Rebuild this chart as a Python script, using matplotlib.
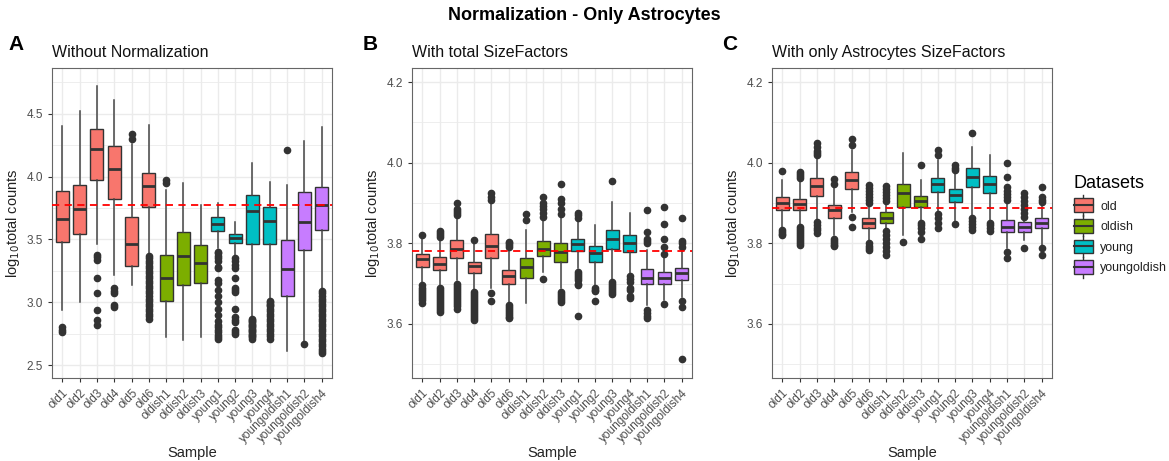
import numpy as np
import matplotlib
matplotlib.use("Agg")
import matplotlib.pyplot as plt
from matplotlib.patches import Rectangle
from matplotlib.legend_handler import HandlerBase

plt.rcParams["font.family"] = ["Liberation Sans", "DejaVu Sans"]

SAMPLES = ["old1", "old2", "old3", "old4", "old5", "old6",
           "oldish1", "oldish2", "oldish3",
           "young1", "young2", "young3", "young4",
           "youngoldish1", "youngoldish2", "youngoldish4"]
GROUP = ["old"] * 6 + ["oldish"] * 3 + ["young"] * 4 + ["youngoldish"] * 3
DATASETS = ["old", "oldish", "young", "youngoldish"]
COLORS = {"old": "#F8766D", "oldish": "#7CAE00", "young": "#00BFC4", "youngoldish": "#C77CFF"}

# ---- A: without normalization ----
A_whislo = [2.94, 3.00, 3.46, 3.215, 3.135, 3.39, 2.72, 2.70, 2.72, 3.43, 3.375, 2.88, 3.03, 2.61, 2.69, 3.10]
A_q1 = [3.48, 3.54, 3.97, 3.82, 3.287, 3.757, 3.01, 3.136, 3.154, 3.568, 3.468, 3.463, 3.463, 3.048, 3.415, 3.575]
A_med = [3.66, 3.74, 4.22, 4.06, 3.46, 3.925, 3.19, 3.37, 3.316, 3.624, 3.508, 3.73, 3.645, 3.263, 3.643, 3.773]
A_q3 = [3.886, 3.935, 4.38, 4.246, 3.676, 4.03, 3.375, 3.562, 3.455, 3.676, 3.54, 3.854, 3.757, 3.495, 3.88, 3.92]
A_whishi = [4.40, 4.52, 4.72, 4.61, 4.26, 4.41, 3.89, 3.946, 3.778, 3.79, 3.638, 4.108, 3.954, 3.935, 4.286, 4.395]
A_out = [
    [2.80, 2.78, 2.765],
    [],
    [3.38, 3.36, 3.34, 3.19, 3.07, 2.94, 2.86, 2.82],
    [3.11, 3.09, 3.07, 2.98, 2.96],
    [4.34, 4.30],
    [3.37, 3.35, 3.33, 3.31, 3.29, 3.27, 3.25, 3.23, 3.21, 3.19, 3.17, 3.15, 3.13,
     3.11, 3.09, 3.07, 3.05, 3.03, 3.01, 2.99, 2.97, 2.95, 2.93, 2.91, 2.89, 2.87],
    [3.97, 3.95],
    [],
    [],
    [3.40, 3.39, 3.37, 3.35, 3.33, 3.28, 3.27, 3.18, 3.15, 3.10, 3.05, 3.00, 2.95,
     2.90, 2.85, 2.82, 2.80, 2.78, 2.76, 2.74, 2.72, 2.71],
    [3.35, 3.33, 3.30, 3.27, 3.19, 3.11, 3.10, 3.08, 2.95, 2.88, 2.86, 2.84, 2.78, 2.76, 2.75],
    [2.87, 2.86, 2.85, 2.84, 2.83, 2.82, 2.81, 2.80, 2.79, 2.78, 2.77, 2.76, 2.75,
     2.74, 2.73, 2.72, 2.71],
    [3.01, 3.00, 2.99, 2.98, 2.97, 2.95, 2.93, 2.91, 2.89, 2.87, 2.85, 2.83, 2.81,
     2.79, 2.77, 2.75, 2.73, 2.71],
    [4.21],
    [2.665],
    [3.09, 3.07, 3.05, 3.03, 3.01, 2.99, 2.97, 2.95, 2.93, 2.91, 2.89, 2.87, 2.85,
     2.83, 2.81, 2.79, 2.77, 2.75, 2.73, 2.71, 2.69, 2.67, 2.65, 2.63, 2.61, 2.60],
]
A_ref = 3.775

# ---- B: with total size factors ----
B_whislo = [3.70, 3.693, 3.71, 3.685, 3.69, 3.652, 3.653, 3.73, 3.689, 3.738, 3.697, 3.71, 3.722, 3.648, 3.66, 3.668]
B_q1 = [3.742, 3.733, 3.763, 3.726, 3.763, 3.70, 3.714, 3.769, 3.755, 3.782, 3.753, 3.786, 3.779, 3.70, 3.70, 3.71]
B_med = [3.76, 3.75, 3.785, 3.744, 3.793, 3.718, 3.741, 3.786, 3.779, 3.798, 3.775, 3.812, 3.802, 3.714, 3.715, 3.726]
B_q3 = [3.774, 3.765, 3.808, 3.755, 3.822, 3.734, 3.763, 3.806, 3.80, 3.812, 3.793, 3.833, 3.82, 3.736, 3.728, 3.738]
B_whishi = [3.81, 3.81, 3.862, 3.80, 3.90, 3.788, 3.833, 3.862, 3.862, 3.853, 3.845, 3.903, 3.876, 3.784, 3.763, 3.788]
B_out = [
    [3.82, 3.697, 3.69, 3.685, 3.68, 3.675, 3.67, 3.665, 3.66, 3.652],
    [3.83, 3.825, 3.82, 3.815, 3.69, 3.685, 3.68, 3.675, 3.67, 3.665, 3.66, 3.655,
     3.65, 3.645, 3.64, 3.635, 3.63],
    [3.90, 3.886, 3.88, 3.875, 3.87, 3.70, 3.695, 3.69, 3.685, 3.68, 3.675, 3.67,
     3.665, 3.66, 3.655, 3.65, 3.645, 3.637],
    [3.808, 3.68, 3.675, 3.67, 3.665, 3.66, 3.655, 3.65, 3.645, 3.64, 3.635, 3.63,
     3.625, 3.62, 3.615, 3.61],
    [3.924, 3.915, 3.907, 3.678, 3.658],
    [3.804, 3.80, 3.796, 3.792, 3.648, 3.643, 3.638, 3.633, 3.628, 3.623, 3.618, 3.615],
    [3.874, 3.857],
    [3.915, 3.90, 3.893, 3.885, 3.875, 3.866, 3.711],
    [3.947, 3.909, 3.90, 3.885, 3.874, 3.68, 3.675, 3.67, 3.665, 3.66, 3.654],
    [3.876, 3.87, 3.864, 3.73, 3.725, 3.72, 3.715, 3.71, 3.70, 3.697, 3.62],
    [3.689, 3.685, 3.682, 3.658],
    [3.955, 3.705, 3.70, 3.695, 3.69, 3.685, 3.68, 3.674],
    [3.718, 3.712, 3.705, 3.69, 3.685, 3.67, 3.664],
    [3.882, 3.829, 3.812, 3.806, 3.80, 3.635, 3.628, 3.62, 3.615],
    [3.89, 3.849, 3.812, 3.792, 3.774, 3.65],
    [3.862, 3.806, 3.80, 3.79, 3.658, 3.642, 3.514],
]
B_ref = 3.782

# ---- C: with only astrocytes size factors ----
C_whislo = [3.841, 3.845, 3.858, 3.82, 3.878, 3.80, 3.812, 3.82, 3.858, 3.878, 3.849, 3.866, 3.858, 3.788, 3.808, 3.795]
C_q1 = [3.882, 3.882, 3.918, 3.862, 3.934, 3.837, 3.851, 3.891, 3.891, 3.928, 3.903, 3.939, 3.926, 3.829, 3.829, 3.837]
C_med = [3.899, 3.897, 3.942, 3.882, 3.957, 3.851, 3.862, 3.925, 3.906, 3.947, 3.921, 3.964, 3.947, 3.841, 3.841, 3.85]
C_q3 = [3.914, 3.91, 3.961, 3.895, 3.978, 3.863, 3.878, 3.947, 3.918, 3.961, 3.936, 3.986, 3.967, 3.859, 3.853, 3.862]
C_whishi = [3.957, 3.957, 4.011, 3.939, 4.031, 3.895, 3.895, 4.023, 3.957, 4.007, 3.978, 4.04, 4.019, 3.899, 3.86, 3.894]
C_out = [
    [3.979, 3.833, 3.829, 3.824, 3.82],
    [3.978, 3.973, 3.968, 3.961, 3.84, 3.835, 3.83, 3.825, 3.82, 3.815, 3.81,
     3.805, 3.80, 3.796],
    [4.05, 4.04, 4.03, 4.025, 4.02, 3.853, 3.845, 3.838, 3.832, 3.826],
    [3.959, 3.947, 3.81, 3.805, 3.80, 3.796, 3.793],
    [4.06, 4.044, 3.866, 3.841],
    [3.945, 3.938, 3.93, 3.922, 3.915, 3.908, 3.90, 3.80, 3.794, 3.789, 3.784],
    [3.942, 3.935, 3.928, 3.92, 3.912, 3.905, 3.83, 3.82, 3.81, 3.80, 3.79, 3.78, 3.771],
    [3.804],
    [3.994, 3.851, 3.845, 3.838, 3.829, 3.812],
    [4.031, 4.019, 3.874, 3.862, 3.85, 3.837],
    [3.994, 3.988, 3.983, 3.848],
    [4.073, 3.862, 3.855, 3.848, 3.84, 3.833],
    [3.851, 3.845, 3.838, 3.83],
    [4.00, 3.965, 3.94, 3.93, 3.922, 3.915, 3.907, 3.779, 3.763],
    [3.924, 3.915, 3.905, 3.895, 3.885, 3.875, 3.866, 3.788],
    [3.941, 3.914, 3.908, 3.902, 3.788, 3.77],
]
C_ref = 3.887

PANELS = [
    ("A", "Without Normalization", A_whislo, A_q1, A_med, A_q3, A_whishi, A_out, A_ref,
     (2.397, 4.865), [2.5, 3.0, 3.5, 4.0, 4.5]),
    ("B", "With total SizeFactors", B_whislo, B_q1, B_med, B_q3, B_whishi, B_out, B_ref,
     (3.466, 4.235), [3.6, 3.8, 4.0, 4.2]),
    ("C", "With only Astrocytes SizeFactors", C_whislo, C_q1, C_med, C_q3, C_whishi, C_out, C_ref,
     (3.466, 4.235), [3.6, 3.8, 4.0, 4.2]),
]

EDGE = "#333333"
GRID = "#EBEBEB"
TICKC = "#4D4D4D"

fig = plt.figure(figsize=(11.69, 4.61), dpi=100)
lefts = [0.0445, 0.3524, 0.6604]
width = 0.2395
bottom, top = 0.18, 0.8525

for k, (letter, title, wlo, q1, med, q3, whi, outs, ref, ylim, yt) in enumerate(PANELS):
    ax = fig.add_axes([lefts[k], bottom, width, top - bottom])
    stats = [dict(whislo=wlo[i], q1=q1[i], med=med[i], q3=q3[i], whishi=whi[i],
                  fliers=outs[i]) for i in range(len(SAMPLES))]
    pos = np.arange(1, len(SAMPLES) + 1)
    bp = ax.bxp(stats, positions=pos, widths=0.75, patch_artist=True,
                boxprops=dict(edgecolor=EDGE, linewidth=1.0),
                medianprops=dict(color=EDGE, linewidth=2.0),
                whiskerprops=dict(color="#444444", linewidth=1.1),
                flierprops=dict(marker="o", markersize=4.5, markerfacecolor=EDGE,
                                markeredgecolor=EDGE, linestyle="none"),
                showcaps=False, zorder=3)
    for patch, g in zip(bp["boxes"], GROUP):
        patch.set_facecolor(COLORS[g])
    ax.axhline(ref, color="red", linestyle=(0, (4, 3)), linewidth=1.3, zorder=4)

    ax.set_xlim(0.4, len(SAMPLES) + 0.6)
    ax.set_ylim(*ylim)
    ax.set_yticks(yt)
    ax.set_yticklabels([f"{v:.1f}" for v in yt])
    step = yt[1] - yt[0]
    minor = [yt[0] - step / 2] + [v + step / 2 for v in yt]
    ax.set_yticks([m for m in minor if ylim[0] < m < ylim[1]], minor=True)
    ax.set_xticks(pos)
    ax.set_xticklabels(SAMPLES, rotation=45, ha="right", rotation_mode="anchor")
    ax.tick_params(axis="both", which="major", labelsize=8.5, labelcolor=TICKC,
                   color=EDGE, length=3, width=0.8)
    ax.tick_params(axis="y", which="minor", length=0)
    ax.grid(True, which="major", color=GRID, linewidth=1.0, zorder=0)
    ax.grid(True, which="minor", axis="y", color=GRID, linewidth=0.6, zorder=0)
    ax.set_axisbelow(True)
    for sp in ax.spines.values():
        sp.set_color("#666666")
        sp.set_linewidth(0.8)
    ax.set_xlabel("Sample", fontsize=10.5, color="#222222", labelpad=1)
    ax.set_ylabel("log$_{10}$total counts", fontsize=10.5, color="#222222", labelpad=3)
    ax.set_title(title, loc="left", fontsize=11.5, color="#111111", pad=8)
    ax.text(-0.13 if k == 0 else -0.15, 1.045, letter, transform=ax.transAxes,
            fontsize=15, fontweight="bold", ha="center", va="bottom")

fig.suptitle("Normalization - Only Astrocytes", fontsize=13, fontweight="bold", y=0.985)


class BoxKey(HandlerBase):
    def create_artists(self, legend, orig_handle, xdescent, ydescent, width, height,
                       fontsize, trans):
        c = orig_handle.get_facecolor()
        w, h = width, height * 1.25
        x0, y0 = -xdescent, -ydescent - (h - height) / 2
        cx = x0 + w / 2
        wl = plt.Line2D([cx, cx], [y0 - 2.5, y0 + h + 2.5], color=EDGE, lw=1.0, transform=trans)
        box = Rectangle((x0, y0), w, h, facecolor=c, edgecolor=EDGE, lw=1.0, transform=trans)
        md = plt.Line2D([x0, x0 + w], [y0 + h / 2] * 2, color=EDGE, lw=1.5, transform=trans)
        return [wl, box, md]


handles = [Rectangle((0, 0), 1, 1, facecolor=COLORS[d]) for d in DATASETS]
leg = fig.legend(handles, DATASETS, title="Datasets", loc="upper left",
                 bbox_to_anchor=(0.909, 0.645), frameon=False, fontsize=9,
                 title_fontsize=13, handler_map={Rectangle: BoxKey()},
                 handlelength=1.5, handleheight=1.0, labelspacing=0.62,
                 handletextpad=0.6, alignment="left")
for t in leg.get_texts():
    t.set_color("#222222")

fig.savefig("out.png", dpi=100)
